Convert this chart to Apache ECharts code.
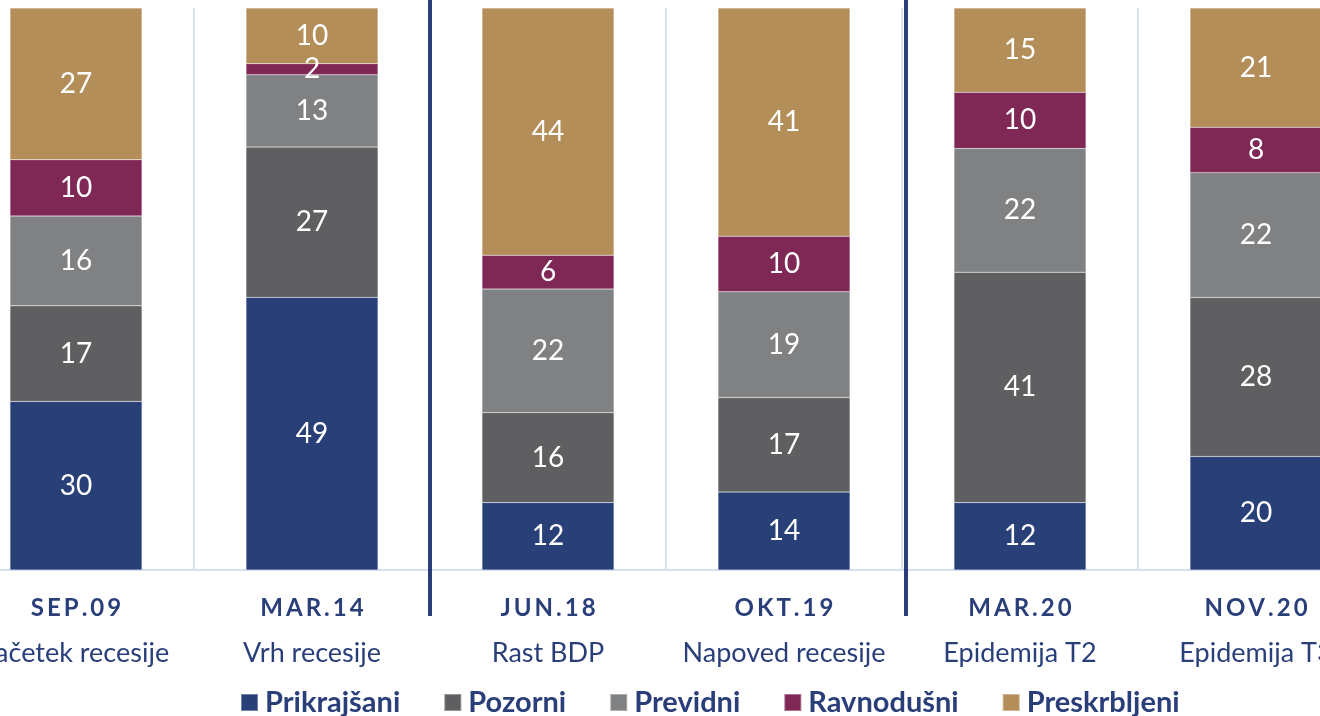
<!DOCTYPE html>
<html>
<head>
<meta charset="utf-8">
<script src="https://cdn.jsdelivr.net/npm/echarts@6/dist/echarts.min.js"></script>
<style>
html,body{margin:0;padding:0;width:1320px;height:716px;overflow:hidden;background:#fff;}
#c{position:absolute;left:-42px;top:0;width:1416px;height:716px;}
</style>
</head>
<body>
<div id="c"></div>
<script>
var periods = ['SEP.09','MAR.14','JUN.18','OKT.19','MAR.20','NOV.20'];
var events = ['začetek recesije','Vrh recesije','Rast BDP','Napoved recesije','Epidemija T2','Epidemija T3'];
var seriesNames = ['Prikrajšani','Pozorni','Previdni','Ravnodušni','Preskrbljeni'];
var prikrajsani   = [30, 49, 12, 14, 12, 20];
var pozorni       = [17, 27, 16, 17, 41, 28];
var previdni      = [16, 13, 22, 19, 22, 22];
var ravnodusni    = [10,  2,  6, 10, 10,  8];
var preskrbljeni  = [27, 10, 44, 41, 15, 21];
var dividers = [2, 4]; // category index where a new phase begins

var colors = ['#283f78','#5f5f61','#808183','#7f2856','#b38e59'];
var raw = [prikrajsani, pozorni, previdni, ravnodusni, preskrbljeni];
var totals = periods.map(function(_, i){ return raw.reduce(function(s, a){ return s + a[i]; }, 0); });
var NAVY = '#2a3f7a';
var FONT = 'Lato, "Noto Sans", sans-serif';

function spaced(s){ return s.split('').join('\u2009'); }

var series = raw.map(function(arr, k){
  return {
    name: seriesNames[k],
    type: 'bar',
    stack: 'all',
    barWidth: 132,
    itemStyle: { color: colors[k], borderColor: 'rgba(255,255,255,0.35)', borderWidth: 0.5 },
    label: {
      show: true, position: 'inside', color: '#fff',
      fontFamily: FONT, fontSize: 28,
      formatter: function(p){ return raw[k][p.dataIndex]; }
    },
    data: arr.map(function(v, i){ return v / totals[i] * 100; })
  };
});

var chart = echarts.init(document.getElementById('c'), null, {renderer:'canvas'});
chart.setOption({
  animation: false,
  color: colors,
  grid: { left: 0, right: 0, top: 8, bottom: 146, containLabel: false },
  legend: {
    left: 282, top: 688, padding: 0,
    itemWidth: 17, itemHeight: 17, itemGap: 43,
    icon: 'rect',
    textStyle: { color: NAVY, fontFamily: FONT, fontSize: 29, fontWeight: 'bold', padding: [0,0,0,2] },
    data: seriesNames
  },
  xAxis: {
    type: 'category',
    data: periods,
    axisLine: { show: true, lineStyle: { color: '#d9e0f1', width: 2 } },
    axisTick: { show: false },
    splitLine: { show: true, lineStyle: { color: '#d9e0f1', width: 2 } },
    axisLabel: {
      margin: 16,
      interval: 0,
      formatter: function(v, i){ return '{a|' + spaced(v) + '}\n{b|' + events[i] + '}'; },
      rich: {
        a: { color: NAVY, fontFamily: FONT, fontSize: 24, fontWeight: 'bold', lineHeight: 45 },
        b: { color: NAVY, fontFamily: FONT, fontSize: 27, lineHeight: 45 }
      }
    }
  },
  yAxis: { type: 'value', min: 0, max: 100, show: false, splitLine: { show: false } },
  series: series
});

// phase dividers, positioned from the category axis
var c0 = chart.convertToPixel({xAxisIndex:0}, 0);
var c1 = chart.convertToPixel({xAxisIndex:0}, 1);
var band = c1 - c0;
var g = dividers.map(function(idx){
  var x = chart.convertToPixel({xAxisIndex:0}, idx) - band / 2 + (idx === 4 ? 4 : 0);
  return { type: 'line', shape: { x1: x, y1: 0, x2: x, y2: 616 }, style: { stroke: NAVY, lineWidth: 4 }, z: 100 };
});
chart.setOption({ graphic: g });
</script>
</body>
</html>
